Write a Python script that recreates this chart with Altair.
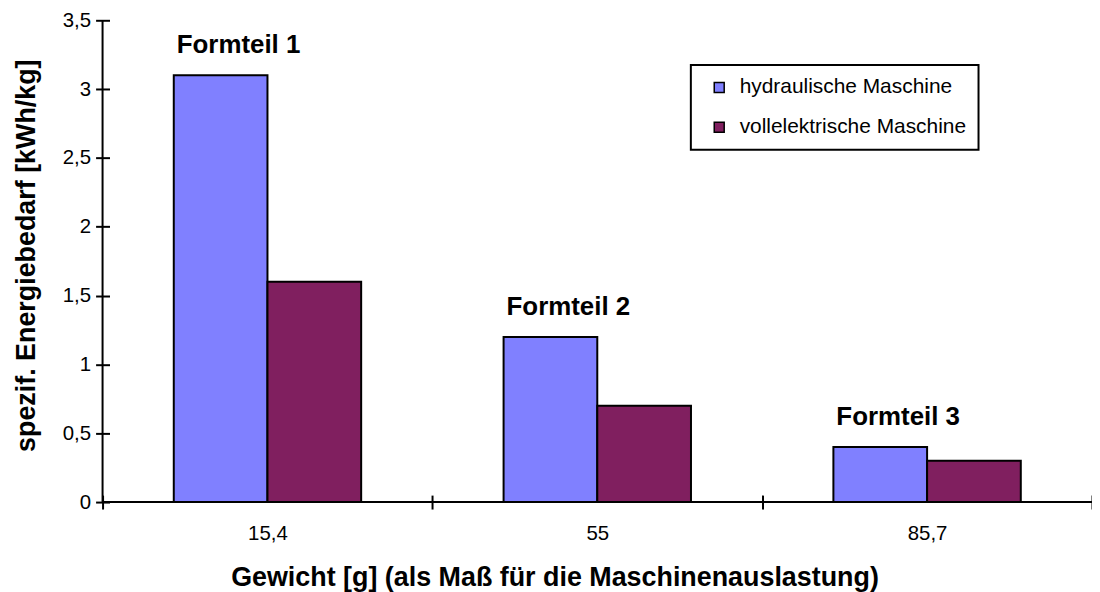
import altair as alt
import pandas as pd

# --- data ---
weights = ["15,4", "55", "85,7"]
parts = ["Formteil 1", "Formteil 2", "Formteil 3"]
series = ["hydraulische Maschine", "vollelektrische Maschine"]
hydraulic = [3.1, 1.2, 0.4]
electric = [1.6, 0.7, 0.3]
y_ticks = [0, 0.5, 1, 1.5, 2, 2.5, 3, 3.5]
colors = ["#8080FF", "#801F5F"]

rows = []
for w, p, h, e in zip(weights, parts, hydraulic, electric):
    rows.append({"weight": w, "part": p, "series": series[0], "value": h})
    rows.append({"weight": w, "part": p, "series": series[1], "value": e})
df = pd.DataFrame(rows)
baseline_df = pd.DataFrame({"v": [0]})

FONT = "Liberation Sans"

x_enc = alt.X(
    "weight:N",
    sort=weights,
    scale=alt.Scale(paddingInner=0, paddingOuter=0),
    axis=alt.Axis(
        title="Gewicht [g] (als Maß für die Maschinenauslastung)",
        tickBand="extent",
        offset=-7,
        tickSize=14,
        tickWidth=2,
        tickColor="black",
        domain=False,
        grid=False,
        labelAngle=0,
        labelFont=FONT,
        labelFontSize=20.5,
        labelColor="black",
        labelPadding=15,
        titleFont=FONT,
        titleFontSize=27,
        titleFontWeight="bold",
        titleColor="black",
        titleX=454,
        titleY=91,
        titleAlign="center",
        titleBaseline="alphabetic",
    ),
)

y_enc = alt.Y(
    "value:Q",
    scale=alt.Scale(domain=[0, 3.5], nice=False),
    axis=alt.Axis(
        title="spezif. Energiebedarf [kWh/kg]",
        values=y_ticks,
        labelExpr="replace(toString(datum.value), '.', ',')",
        offset=-7,
        tickSize=14,
        tickWidth=2,
        tickColor="black",
        domain=False,
        grid=False,
        labelFont=FONT,
        labelFontSize=20.5,
        labelColor="black",
        labelPadding=5,
        titleFont=FONT,
        titleFontSize=27,
        titleFontWeight="bold",
        titleColor="black",
        titleAngle=270,
        titleX=-75,
        titleY=236,
        titleAlign="center",
        titleBaseline="alphabetic",
    ),
)

xoff_enc = alt.XOffset(
    "series:N", sort=series, scale=alt.Scale(paddingInner=0, paddingOuter=0.76)
)

bars = alt.Chart(df).mark_bar(stroke="black", strokeWidth=2).encode(
    x=x_enc,
    xOffset=xoff_enc,
    y=y_enc,
    color=alt.Color(
        "series:N",
        scale=alt.Scale(domain=series, range=colors),
        legend=alt.Legend(
            title=None,
            orient="none",
            legendX=591,
            legendY=45,
            padding=12,
            symbolOffset=6,
            symbolType="square",
            symbolSize=100,
            symbolStrokeColor="black",
            symbolStrokeWidth=1.5,
            labelOffset=10,
            labelFont=FONT,
            labelFontSize=21,
            labelColor="black",
            labelLimit=400,
            rowPadding=18,
            strokeColor="black",
            fillColor="white",
        ),
    ),
)

labels = (
    alt.Chart(df)
    .transform_filter(alt.datum.series == series[0])
    .mark_text(
        dx=18,
        dy=-22,
        font=FONT,
        fontSize=26,
        fontWeight="bold",
        align="center",
        baseline="alphabetic",
        color="black",
    )
    .encode(x=x_enc, xOffset=xoff_enc, y=y_enc, text="part:N")
)

x_line = alt.Chart(baseline_df).mark_rule(color="black", strokeWidth=2).encode(
    y=alt.datum(0)
)
y_line = alt.Chart(baseline_df).mark_rule(color="black", strokeWidth=2).encode(
    x=alt.value(0)
)

chart = (
    alt.layer(bars, labels, x_line, y_line)
    .properties(
        width=994,
        height=484,
        padding={"left": 95, "top": 11, "right": 0, "bottom": 89},
        autosize=alt.AutoSizeParams(type="none"),
    )
    .configure_view(strokeWidth=0)
    .configure_legend(strokeWidth=2)
)

chart.save("out.html", embed_options={"renderer": "svg", "actions": False})
